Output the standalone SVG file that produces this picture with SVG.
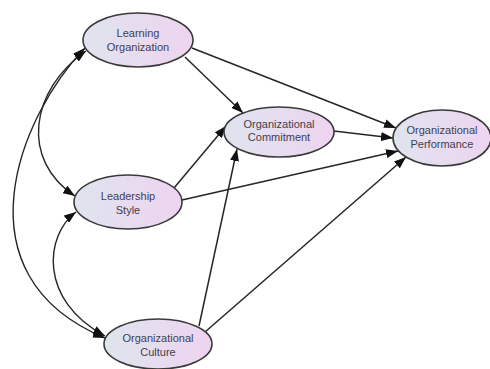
<svg xmlns="http://www.w3.org/2000/svg" width="490" height="369" viewBox="0 0 490 369">
<defs>
<linearGradient id="g" x1="0" y1="0" x2="1" y2="0">
<stop offset="0" stop-color="#dfe4ee"/>
<stop offset="1" stop-color="#eed4f0"/>
</linearGradient>
<marker id="ah" markerUnits="userSpaceOnUse" markerWidth="13" markerHeight="9" refX="12" refY="4.5" orient="auto-start-reverse">
<path d="M0,0 L12,4.5 L0,9 z" fill="#111"/>
</marker>
<style>
.n{fill:url(#g);stroke:#3a3a3a;stroke-width:1.6}
.t{font-family:"Liberation Sans",Arial,sans-serif;font-size:11px;fill:#433e4e;text-anchor:middle}
.c{fill:none;stroke:#262626;stroke-width:1.5;marker-end:url(#ah)}
.b{fill:none;stroke:#262626;stroke-width:1.4;marker-end:url(#ah);marker-start:url(#ah)}
</style>
</defs>
<g id="connectors">
<path class="c" d="M185,57 L243,113"/>
<path class="c" d="M192,48 L396,128"/>
<path class="c" d="M334,131 L393,138"/>
<path class="c" d="M174,188 L226,126"/>
<path class="c" d="M182,200 L398,151"/>
<path class="c" d="M199,326 L237,149"/>
<path class="c" d="M205,332 L406,157"/>
<path class="b" d="M85,48 C20,115 -46,275 105,338"/>
<path class="b" d="M86,51 C30,90 20,160 75,196"/>
<path class="b" d="M76,212 C45,235 38,300 105,336"/>
</g>
<g id="learning-organization">
<ellipse class="n" cx="138" cy="40" rx="55" ry="27"/>
<text class="t" x="138" y="37">Learning</text>
<text class="t" x="138" y="51">Organization</text>
</g>
<g id="leadership-style">
<ellipse class="n" cx="128" cy="202" rx="54" ry="27"/>
<text class="t" x="128" y="200">Leadership</text>
<text class="t" x="128" y="214">Style</text>
</g>
<g id="organizational-culture">
<ellipse class="n" cx="158" cy="344" rx="54" ry="25"/>
<text class="t" x="158" y="342">Organizational</text>
<text class="t" x="158" y="356">Culture</text>
</g>
<g id="organizational-commitment">
<ellipse class="n" cx="279" cy="132" rx="55" ry="25"/>
<text class="t" x="279" y="128">Organizational</text>
<text class="t" x="279" y="141">Commitment</text>
</g>
<g id="organizational-performance">
<ellipse class="n" cx="442" cy="138" rx="49" ry="28"/>
<text class="t" x="442" y="134">Organizational</text>
<text class="t" x="442" y="148">Performance</text>
</g>
</svg>
